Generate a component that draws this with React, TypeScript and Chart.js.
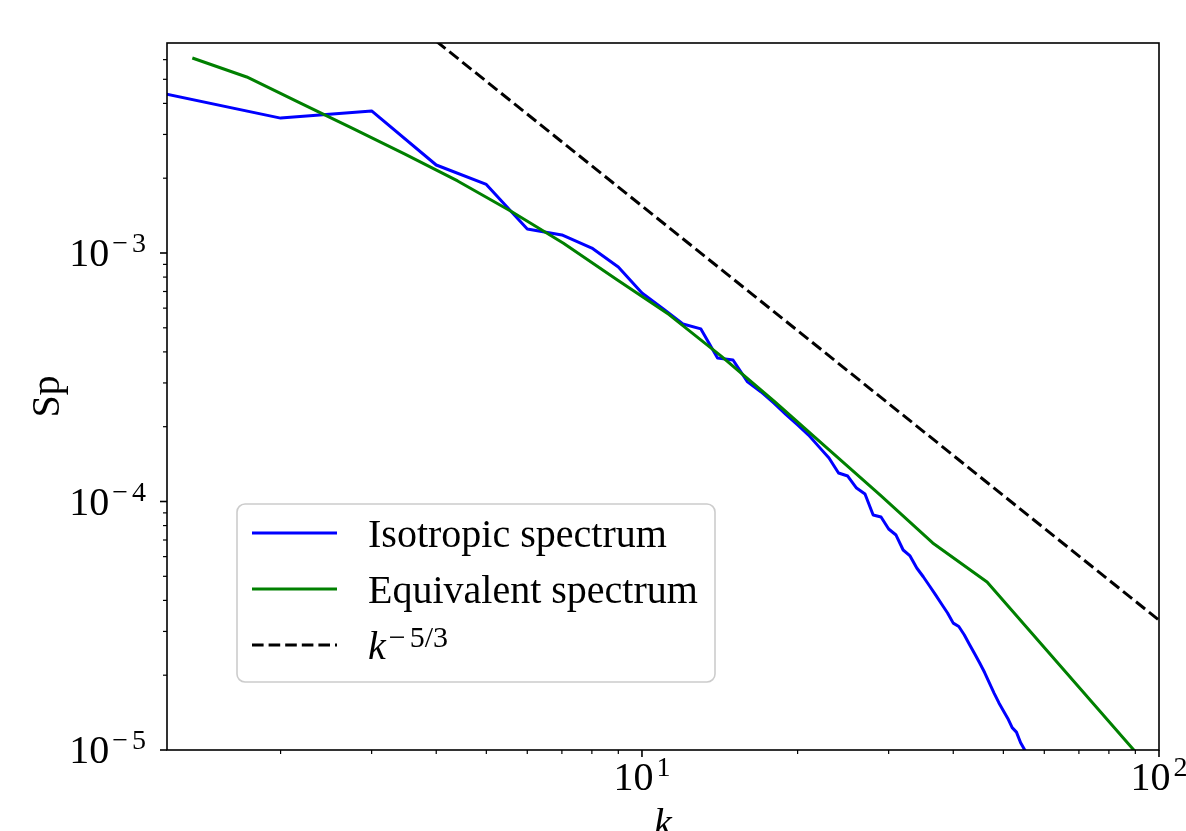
import React, { useEffect, useRef } from "react";
import { Chart, registerables } from "chart.js";

Chart.register(...registerables);

// ---------- data ----------
const isoK = [
  1, 2, 3, 4, 5, 6, 7, 8, 9, 10,
  11, 12, 13, 14, 15, 16, 17, 18, 19, 20,
  21, 22, 23, 24, 25, 26, 27, 28, 29, 30,
  31, 32, 33, 34, 35, 36, 37, 38, 39, 40,
  41, 42, 43, 44, 45, 46, 47, 48, 49, 50,
  51, 52, 53, 54, 55, 56,
];
const isoSp = [
  4.72e-3, 3.49e-3, 3.73e-3, 2.26e-3, 1.887e-3, 1.249e-3, 1.182e-3, 1.047e-3, 8.78e-4, 6.9e-4,
  5.96e-4, 5.18e-4, 4.95e-4, 3.78e-4, 3.71e-4, 3.03e-4, 2.76e-4, 2.49e-4, 2.237e-4, 2.033e-4,
  1.85e-4, 1.659e-4, 1.496e-4, 1.302e-4, 1.266e-4, 1.133e-4, 1.072e-4, 8.82e-5, 8.66e-5, 7.75e-5,
  7.33e-5, 6.38e-5, 6.04e-5, 5.4e-5, 4.98e-5, 4.57e-5, 4.2e-5, 3.86e-5, 3.56e-5, 3.24e-5,
  3.14e-5, 2.91e-5, 2.66e-5, 2.44e-5, 2.24e-5, 2.05e-5, 1.86e-5, 1.69e-5, 1.55e-5, 1.44e-5,
  1.34e-5, 1.23e-5, 1.18e-5, 1.07e-5, 1.0e-5, 9.29e-6,
];

const eqK = [1.35, 1.72, 2.18, 2.75, 3.48, 4.4, 5.57, 7.05, 8.92, 11.28, 14.27, 18.06, 22.84, 28.9, 36.5, 46.5, 94];
const eqSp = [
  6.09e-3, 5.11e-3, 4.02e-3, 3.18e-3, 2.5e-3, 1.95e-3, 1.476e-3, 1.094e-3, 7.84e-4,
  5.65e-4, 3.83e-4, 2.52e-4, 1.636e-4, 1.062e-4, 6.81e-5, 4.74e-5, 8.87e-6,
];

const refK = [3, 100];
const refSp = [1.15e-2, 3.33e-5];

const seriesLabels = ["Isotropic spectrum", "Equivalent spectrum", "k"];
const refExponent = "−5/3";

const xMajorTicks = [10, 100];
const xMajorExp = ["1", "2"];
const yMajorTicks = [1e-3, 1e-4, 1e-5];
const yMajorExp = ["−3", "−4", "−5"];
const tickBase = "10";
const xTitle = "k";
const yTitle = "Sp";

const X_MIN = 1.206;
const X_MAX = 100;
const Y_MIN = 1e-5;
const Y_MAX = 7.0e-3;

const FONT = '"Liberation Serif", "DejaVu Serif", serif';
const MAIN_PX = 40;

// draws an exponent string, leaving a small gap after a leading minus sign
function expWidth(ctx: CanvasRenderingContext2D, exp: string, minusGap: number) {
  if (exp.startsWith("−")) {
    return ctx.measureText("−").width + minusGap + ctx.measureText(exp.slice(1)).width;
  }
  return ctx.measureText(exp).width;
}
function drawExp(ctx: CanvasRenderingContext2D, exp: string, x: number, y: number, minusGap: number) {
  if (exp.startsWith("−")) {
    ctx.fillText("−", x, y);
    ctx.fillText(exp.slice(1), x + ctx.measureText("−").width + minusGap, y);
  } else {
    ctx.fillText(exp, x, y);
  }
}

function drawPower(
  ctx: CanvasRenderingContext2D,
  base: string,
  exp: string,
  x: number,
  baseline: number,
  align: "left" | "right" | "center",
  raise: number,
  supPx: number,
  italic = false
) {
  const minusGap = 4;
  ctx.font = `${italic ? "italic " : ""}${MAIN_PX}px ${FONT}`;
  const w1 = ctx.measureText(base).width;
  ctx.font = `${supPx}px ${FONT}`;
  const w2 = expWidth(ctx, exp, minusGap);
  const gap = italic ? 3 : 3;
  const total = w1 + gap + w2;
  let sx = x;
  if (align === "right") sx = x - total;
  else if (align === "center") sx = x - total / 2;
  ctx.textAlign = "left";
  ctx.textBaseline = "alphabetic";
  ctx.font = `${italic ? "italic " : ""}${MAIN_PX}px ${FONT}`;
  ctx.fillText(base, sx, baseline);
  ctx.font = `${supPx}px ${FONT}`;
  drawExp(ctx, exp, sx + w1 + gap, baseline - raise, minusGap);
}

const decorPlugin = {
  id: "decor",
  afterDatasetsDraw(chart: any) {
    const { ctx, chartArea: a, scales } = chart;
    const xs = scales.x;
    const ys = scales.y;
    ctx.save();
    ctx.fillStyle = "#000";
    ctx.strokeStyle = "#000";

    // spines
    ctx.lineWidth = 1.6;
    ctx.strokeRect(a.left, a.top, a.right - a.left, a.bottom - a.top);

    const xTick = (v: number, len: number, w: number) => {
      const p = xs.getPixelForValue(v);
      ctx.lineWidth = w;
      ctx.beginPath();
      ctx.moveTo(p, a.bottom);
      ctx.lineTo(p, a.bottom + len);
      ctx.stroke();
    };
    const yTick = (v: number, len: number, w: number) => {
      const p = ys.getPixelForValue(v);
      ctx.lineWidth = w;
      ctx.beginPath();
      ctx.moveTo(a.left, p);
      ctx.lineTo(a.left - len, p);
      ctx.stroke();
    };

    // minor ticks
    for (let e = 0; e <= 1; e++) {
      for (let m = 2; m <= 9; m++) {
        const v = m * Math.pow(10, e);
        if (v > X_MIN && v < X_MAX) xTick(v, 4, 1.2);
      }
    }
    for (let e = -5; e <= -3; e++) {
      for (let m = 2; m <= 9; m++) {
        const v = m * Math.pow(10, e);
        if (v > Y_MIN && v < Y_MAX * 0.999) yTick(v, 4, 1.2);
      }
    }
    // major ticks + labels
    xMajorTicks.forEach((v, i) => {
      xTick(v, 7, 1.6);
      drawPower(ctx, tickBase, xMajorExp[i], xs.getPixelForValue(v), a.bottom + 40, "center", 14, 28);
    });
    yMajorTicks.forEach((v, i) => {
      yTick(v, 7, 1.6);
      const p = ys.getPixelForValue(v);
      drawPower(ctx, tickBase, yMajorExp[i], a.left - 21, p + 13, "right", 14, 28);
    });

    // axis titles
    ctx.font = `italic ${MAIN_PX}px ${FONT}`;
    ctx.textAlign = "center";
    ctx.textBaseline = "alphabetic";
    ctx.fillText(xTitle, (a.left + a.right) / 2, a.bottom + 86);

    ctx.save();
    ctx.translate(48, (a.top + a.bottom) / 2);
    ctx.rotate(-Math.PI / 2);
    ctx.font = `${MAIN_PX}px ${FONT}`;
    ctx.textAlign = "center";
    ctx.textBaseline = "middle";
    ctx.fillText(yTitle, 0, 0);
    ctx.restore();

    // legend
    const lx = a.left + 70;
    const lw = 478;
    const lh = 178;
    const ly = a.bottom - 68 - lh;
    ctx.beginPath();
    (ctx as any).roundRect(lx, ly, lw, lh, 8);
    ctx.fillStyle = "rgba(255,255,255,0.8)";
    ctx.fill();
    ctx.strokeStyle = "#cccccc";
    ctx.lineWidth = 1.6;
    ctx.stroke();

    const rowY = [ly + 29, ly + 85, ly + 141];
    chart.data.datasets.forEach((ds: any, i: number) => {
      const y = rowY[i];
      ctx.save();
      ctx.strokeStyle = ds.borderColor;
      ctx.lineWidth = ds.borderWidth;
      ctx.setLineDash(ds.borderDash || []);
      ctx.lineCap = "butt";
      ctx.beginPath();
      ctx.moveTo(lx + 15, y);
      ctx.lineTo(lx + 100, y);
      ctx.stroke();
      ctx.restore();
      ctx.fillStyle = "#000";
      if (i < 2) {
        ctx.font = `${MAIN_PX}px ${FONT}`;
        ctx.textAlign = "left";
        ctx.textBaseline = "alphabetic";
        ctx.fillText(ds.label, lx + 131, y + 14);
      } else {
        drawPower(ctx, ds.label, refExponent, lx + 131, y + 14, "left", 12, 30, true);
      }
    });

    ctx.restore();
  },
};

export default function App() {
  const ref = useRef<HTMLCanvasElement | null>(null);

  useEffect(() => {
    if (!ref.current) return;
    const chart = new Chart(ref.current, {
      type: "line",
      data: {
        datasets: [
          {
            label: seriesLabels[0],
            data: isoK.map((k, i) => ({ x: k, y: isoSp[i] })),
            borderColor: "#0000ff",
            borderWidth: 3,
            pointRadius: 0,
            tension: 0,
            fill: false,
            borderJoinStyle: "round",
            clip: 0,
            order: 3,
          },
          {
            label: seriesLabels[1],
            data: eqK.map((k, i) => ({ x: k, y: eqSp[i] })),
            borderColor: "#008000",
            borderWidth: 3,
            pointRadius: 0,
            tension: 0,
            fill: false,
            borderJoinStyle: "round",
            clip: 0,
            order: 2,
          },
          {
            label: seriesLabels[2],
            data: refK.map((k, i) => ({ x: k, y: refSp[i] })),
            borderColor: "#000000",
            borderWidth: 3,
            borderDash: [11.6, 5],
            pointRadius: 0,
            tension: 0,
            fill: false,
            clip: 0,
            order: 1,
          },
        ],
      } as any,
      options: {
        animation: false,
        responsive: false,
        devicePixelRatio: 1,
        parsing: false as any,
        layout: { padding: { left: 0, right: 27, top: 43, bottom: 0 } },
        plugins: { legend: { display: false }, tooltip: { enabled: false } },
        scales: {
          x: {
            type: "logarithmic",
            min: X_MIN,
            max: X_MAX,
            grid: { display: false },
            border: { display: false },
            ticks: { display: false },
            afterFit: (s: any) => {
              s.height = 81;
            },
          },
          y: {
            type: "logarithmic",
            min: Y_MIN,
            max: Y_MAX,
            grid: { display: false },
            border: { display: false },
            ticks: { display: false },
            afterFit: (s: any) => {
              s.width = 167;
            },
          },
        },
      } as any,
      plugins: [decorPlugin],
    });
    return () => chart.destroy();
  }, []);

  return (
    <div style={{ position: "fixed", left: 0, top: 0, width: 1186, height: 831, background: "#fff" }}>
      <canvas ref={ref} width={1186} height={831} style={{ display: "block" }} />
    </div>
  );
}
